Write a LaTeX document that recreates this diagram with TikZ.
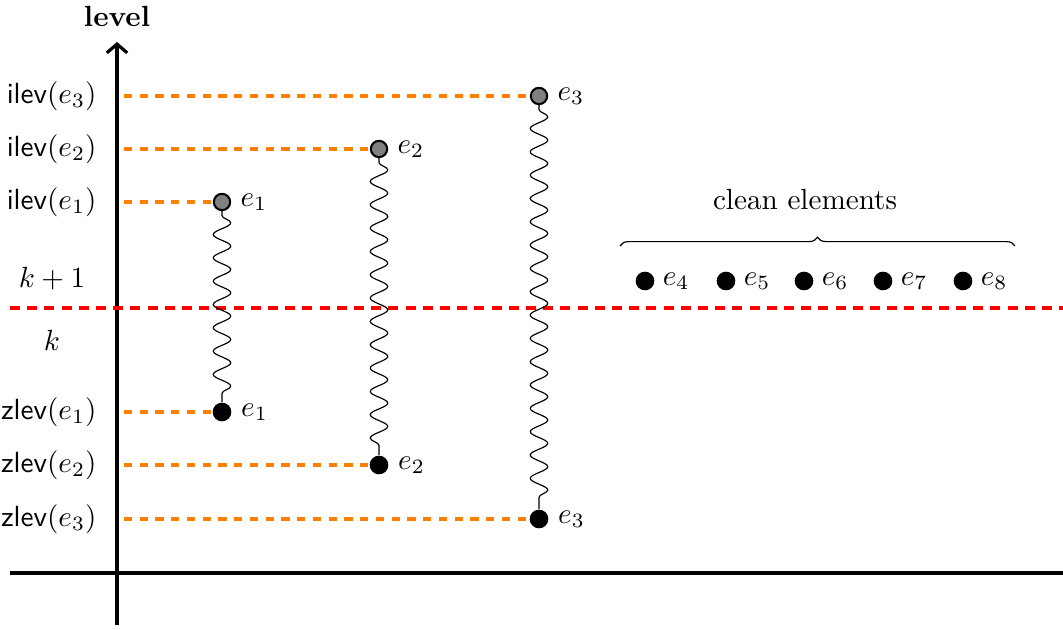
\documentclass[tikz,border=0pt]{standalone}
\usetikzlibrary{decorations.pathmorphing,decorations.pathreplacing,arrows.meta}
\begin{document}
\begin{tikzpicture}[x=0.343pt,y=-0.343pt,
  axis/.style={line width=1.1pt},
  guide/.style={orange,line width=1.2pt,dash pattern=on 2.8pt off 2.6pt},
  sep/.style={red,line width=1.2pt,dash pattern=on 3.4pt off 2.5pt},
  topdot/.style={circle,draw=black,fill=gray,line width=0.7pt,inner sep=0pt,minimum size=5.6pt},
  botdot/.style={circle,fill=black,inner sep=0pt,minimum size=6.4pt},
  wave/.style={decorate,decoration={snake,amplitude=3pt,segment length=8pt,pre length=1.5pt,post length=1.5pt}},
  elab/.style={anchor=west,inner sep=3pt},
  lab/.style={anchor=east,inner sep=0pt}]
\useasboundingbox (0,0) rectangle (1063,630);
% axes
\coordinate (ybot) at (117,625);
\coordinate (ytop) at (117,42);
\coordinate (xl) at (10,573);
\coordinate (xr) at (1063,573);
\draw[axis,-{Straight Barb[length=3pt,width=7pt]}] (ybot) -- (ytop);
\draw[axis] (xl) -- (xr);
\node (levl) at (117,16) {\textbf{level}};
% separator
\coordinate (sl) at (10,308);
\coordinate (sr) at (1063,308);
\draw[sep] (sl) -- (sr);
\node (kp) at (52,279) {$k+1$};
\node (kk) at (52,340) {$k$};
% left labels
\node[lab] (i3) at (97,96) {\textsf{ilev}$(e_3)$};
\node[lab] (i2) at (97,149) {\textsf{ilev}$(e_2)$};
\node[lab] (i1) at (97,202) {\textsf{ilev}$(e_1)$};
\node[lab] (z1) at (97,412) {\textsf{zlev}$(e_1)$};
\node[lab] (z2) at (97,465) {\textsf{zlev}$(e_2)$};
\node[lab] (z3) at (97,519) {\textsf{zlev}$(e_3)$};
\coordinate (gi3) at (124,96);
\coordinate (gi2) at (124,149);
\coordinate (gi1) at (124,202);
\coordinate (gz1) at (124,412);
\coordinate (gz2) at (124,465);
\coordinate (gz3) at (124,519);
% nodes
\node[topdot] (t1) at (222,202) {};
\node[topdot] (t2) at (379,149) {};
\node[topdot] (t3) at (539,96) {};
\node[botdot] (b1) at (222,412) {};
\node[botdot] (b2) at (379,465) {};
\node[botdot] (b3) at (539,519) {};
\draw[guide] (gi3) -- (t3);
\draw[guide] (gi2) -- (t2);
\draw[guide] (gi1) -- (t1);
\draw[guide] (gz1) -- (b1);
\draw[guide] (gz2) -- (b2);
\draw[guide] (gz3) -- (b3);
\draw[wave] (t1) -- (b1);
\draw[wave] (t2) -- (b2);
\draw[wave] (t3) -- (b3);
\node[elab] (lt1) at (t1.east) {$e_1$};
\node[elab] (lt2) at (t2.east) {$e_2$};
\node[elab] (lt3) at (t3.east) {$e_3$};
\node[elab] (lb1) at (b1.east) {$e_1$};
\node[elab] (lb2) at (b2.east) {$e_2$};
\node[elab] (lb3) at (b3.east) {$e_3$};
% clean elements
\node (clean) at (805,200) {clean elements};
\coordinate (brl) at (620,246);
\coordinate (brr) at (1015,246);
\draw[decorate,decoration={brace,amplitude=3pt}] (brl) -- (brr);
\foreach \i/\x in {4/645,5/726,6/804,7/883,8/963}{
  \node[botdot] (c\i) at (\x,281) {};
  \node[elab,inner sep=2.5pt] (lc\i) at (c\i.east) {$e_{\i}$};
}
\end{tikzpicture}
\end{document}
